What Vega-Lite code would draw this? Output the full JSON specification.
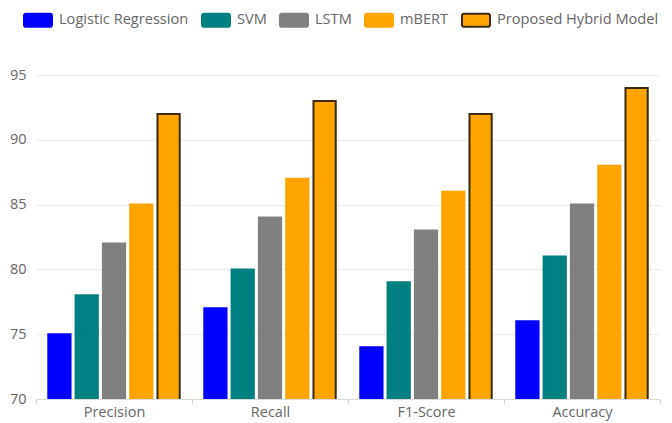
{
  "$schema": "https://vega.github.io/schema/vega-lite/v6.json",
  "autosize": {"type": "none"},
  "padding": {"left": 36, "top": 75, "right": 12, "bottom": 24},
  "width": 624,
  "height": 324,
  "background": "white",
  "config": {
    "font": "Open Sans",
    "view": {"stroke": null},
    "axis": {"labelColor": "#666666", "labelFontSize": 14.5, "titleColor": "#666666"}
  },
  "data": {
    "values": [
      {"metric": "Precision", "model": "Logistic Regression", "value": 75},
      {"metric": "Precision", "model": "SVM", "value": 78},
      {"metric": "Precision", "model": "LSTM", "value": 82},
      {"metric": "Precision", "model": "mBERT", "value": 85},
      {"metric": "Precision", "model": "Proposed Hybrid Model", "value": 92},
      {"metric": "Recall", "model": "Logistic Regression", "value": 77},
      {"metric": "Recall", "model": "SVM", "value": 80},
      {"metric": "Recall", "model": "LSTM", "value": 84},
      {"metric": "Recall", "model": "mBERT", "value": 87},
      {"metric": "Recall", "model": "Proposed Hybrid Model", "value": 93},
      {"metric": "F1-Score", "model": "Logistic Regression", "value": 74},
      {"metric": "F1-Score", "model": "SVM", "value": 79},
      {"metric": "F1-Score", "model": "LSTM", "value": 83},
      {"metric": "F1-Score", "model": "mBERT", "value": 86},
      {"metric": "F1-Score", "model": "Proposed Hybrid Model", "value": 92},
      {"metric": "Accuracy", "model": "Logistic Regression", "value": 76},
      {"metric": "Accuracy", "model": "SVM", "value": 81},
      {"metric": "Accuracy", "model": "LSTM", "value": 85},
      {"metric": "Accuracy", "model": "mBERT", "value": 88},
      {"metric": "Accuracy", "model": "Proposed Hybrid Model", "value": 94}
    ]
  },
  "mark": {"type": "bar", "strokeWidth": 2, "clip": true},
  "encoding": {
    "x": {
      "field": "metric",
      "type": "nominal",
      "sort": ["Precision", "Recall", "F1-Score", "Accuracy"],
      "scale": {"paddingInner": 0, "paddingOuter": 0},
      "axis": {
        "title": null,
        "labelAngle": 0,
        "labelPadding": 1,
        "tickBand": "extent",
        "tickSize": 5,
        "tickColor": "#d9d9d9",
        "domainColor": "#d9d9d9",
        "grid": false
      }
    },
    "xOffset": {
      "field": "model",
      "type": "nominal",
      "sort": ["Logistic Regression", "SVM", "LSTM", "mBERT", "Proposed Hybrid Model"],
      "scale": {"paddingInner": 0.185, "paddingOuter": 0.45}
    },
    "y": {
      "field": "value",
      "type": "quantitative",
      "scale": {"domain": [70, 95], "zero": false, "nice": false},
      "axis": {
        "title": null,
        "values": [70, 75, 80, 85, 90, 95],
        "gridColor": "#ececec",
        "domain": false,
        "ticks": false,
        "labelPadding": 10
      }
    },
    "color": {
      "field": "model",
      "type": "nominal",
      "sort": ["Logistic Regression", "SVM", "LSTM", "mBERT", "Proposed Hybrid Model"],
      "scale": {
        "domain": ["Logistic Regression", "SVM", "LSTM", "mBERT", "Proposed Hybrid Model"],
        "range": ["#0000ff", "#008080", "#808080", "#ffa500", "#ffa500"]
      },
      "legend": {
        "title": null,
        "orient": "none",
        "direction": "horizontal",
        "legendX": -13,
        "legendY": -70,
        "symbolType": "M-0.85,-0.464H0.85Q1,-0.464 1,-0.314V0.314Q1,0.464 0.85,0.464H-0.85Q-1,0.464 -1,0.314V-0.314Q-1,-0.464 -0.85,-0.464Z",
        "symbolSize": 784,
        "symbolStrokeWidth": 2,
        "labelFontSize": 14.6,
        "labelColor": "#666666",
        "labelOffset": 6,
        "labelLimit": 300,
        "columnPadding": 9,
        "symbolOpacity": 1
      }
    },
    "stroke": {
      "field": "model",
      "type": "nominal",
      "sort": ["Logistic Regression", "SVM", "LSTM", "mBERT", "Proposed Hybrid Model"],
      "scale": {
        "domain": ["Logistic Regression", "SVM", "LSTM", "mBERT", "Proposed Hybrid Model"],
        "range": ["#0000ff", "#008080", "#808080", "#ffa500", "#3a2a0a"]
      },
      "legend": {
        "title": null,
        "orient": "none",
        "direction": "horizontal",
        "legendX": -13,
        "legendY": -70,
        "symbolType": "M-0.85,-0.464H0.85Q1,-0.464 1,-0.314V0.314Q1,0.464 0.85,0.464H-0.85Q-1,0.464 -1,0.314V-0.314Q-1,-0.464 -0.85,-0.464Z",
        "symbolSize": 784,
        "symbolStrokeWidth": 2,
        "labelFontSize": 14.6,
        "labelColor": "#666666",
        "labelOffset": 6,
        "labelLimit": 300,
        "columnPadding": 9
      }
    }
  }
}
